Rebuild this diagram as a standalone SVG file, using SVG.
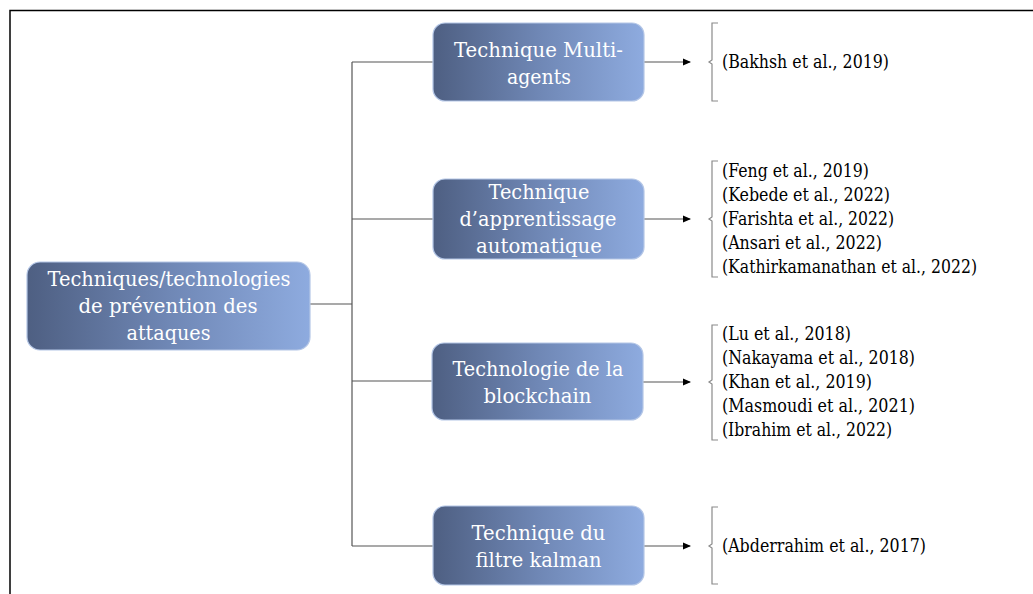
<svg xmlns="http://www.w3.org/2000/svg" width="1033" height="594" viewBox="0 0 1033 594">
  <defs>
    <linearGradient id="boxFill" x1="0" y1="0" x2="1" y2="0">
      <stop offset="0" stop-color="#4e5f82"/>
      <stop offset="0.5" stop-color="#6f87b5"/>
      <stop offset="1" stop-color="#8eabdf"/>
    </linearGradient>
    <marker id="arrow" markerWidth="8" markerHeight="8" refX="7" refY="4" orient="auto" markerUnits="userSpaceOnUse">
      <path d="M0,0.5 L8,4 L0,7.5 Z" fill="#000"/>
    </marker>
    <style>
      .box { fill: url(#boxFill); stroke: #b4c6e6; stroke-width: 1.2; }
      .lbl { font-family: "DejaVu Serif", serif; font-size: 20px; fill: #ffffff; }
      .ref { font-family: "DejaVu Serif", serif; font-size: 18px; fill: #000000; }
      .wire { fill: none; stroke: #555555; stroke-width: 1.2; }
      .brace { fill: none; stroke: #8a8a8a; stroke-width: 1.2; }
      .frame { fill: none; stroke: #000000; stroke-width: 1.5; }
    </style>
  </defs>

  <rect width="1033" height="594" fill="#ffffff"/>
  <path class="frame" d="M10,594 L10,10.5 L1033,10.5"/>

  <g id="connectors">
    <path class="wire" d="M310,304 L352,304"/>
    <path class="wire" d="M352,62 L352,546"/>
    <path class="wire" d="M352,62 L433,62"/>
    <path class="wire" d="M352,219 L433,219"/>
    <path class="wire" d="M352,381 L432,381"/>
    <path class="wire" d="M352,546 L433,546"/>
    <path class="wire" d="M644,62 L690,62" marker-end="url(#arrow)"/>
    <path class="wire" d="M644,219 L690,219" marker-end="url(#arrow)"/>
    <path class="wire" d="M643,382 L690,382" marker-end="url(#arrow)"/>
    <path class="wire" d="M644,546 L690,546" marker-end="url(#arrow)"/>
  </g>

  <g id="root">
    <rect class="box" x="27" y="262" width="283" height="88" rx="13"/>
    <text class="lbl" x="47.5" y="286" textLength="243" lengthAdjust="spacingAndGlyphs">Techniques/technologies</text>
    <text class="lbl" x="78.5" y="313" textLength="179" lengthAdjust="spacingAndGlyphs">de prévention des</text>
    <text class="lbl" x="126.5" y="340" textLength="84" lengthAdjust="spacingAndGlyphs">attaques</text>
  </g>

  <g id="multi-agents">
    <rect class="box" x="433" y="23" width="211" height="78" rx="12"/>
    <text class="lbl" x="454" y="56.5" textLength="169" lengthAdjust="spacingAndGlyphs">Technique Multi-</text>
    <text class="lbl" x="507" y="83.5" textLength="64" lengthAdjust="spacingAndGlyphs">agents</text>
    <path class="brace" d="M718,23 L712,23 L712,60 L709,62 L712,64 L712,101 L718,101"/>
    <text class="ref" x="722" y="68" textLength="167" lengthAdjust="spacingAndGlyphs">(Bakhsh et al., 2019)</text>
  </g>

  <g id="apprentissage">
    <rect class="box" x="433" y="179" width="211" height="80" rx="12"/>
    <text class="lbl" x="488.5" y="198.5" textLength="101" lengthAdjust="spacingAndGlyphs">Technique</text>
    <text class="lbl" x="459.5" y="225.5" textLength="157" lengthAdjust="spacingAndGlyphs">d’apprentissage</text>
    <text class="lbl" x="476" y="252.5" textLength="126" lengthAdjust="spacingAndGlyphs">automatique</text>
    <path class="brace" d="M718,161 L712,161 L712,217 L709,219 L712,221 L712,277 L718,277"/>
    <text class="ref" x="722" y="177" textLength="147" lengthAdjust="spacingAndGlyphs">(Feng et al., 2019)</text>
    <text class="ref" x="722" y="201" textLength="168" lengthAdjust="spacingAndGlyphs">(Kebede et al., 2022)</text>
    <text class="ref" x="722" y="225" textLength="172" lengthAdjust="spacingAndGlyphs">(Farishta et al., 2022)</text>
    <text class="ref" x="722" y="249" textLength="160" lengthAdjust="spacingAndGlyphs">(Ansari et al., 2022)</text>
    <text class="ref" x="722" y="273" textLength="255" lengthAdjust="spacingAndGlyphs">(Kathirkamanathan et al., 2022)</text>
  </g>

  <g id="blockchain">
    <rect class="box" x="432" y="343" width="211" height="77" rx="12"/>
    <text class="lbl" x="452.5" y="376" textLength="171" lengthAdjust="spacingAndGlyphs">Technologie de la</text>
    <text class="lbl" x="483.5" y="403" textLength="108" lengthAdjust="spacingAndGlyphs">blockchain</text>
    <path class="brace" d="M718,325 L712,325 L712,380 L709,382 L712,384 L712,440 L718,440"/>
    <text class="ref" x="722" y="340" textLength="129" lengthAdjust="spacingAndGlyphs">(Lu et al., 2018)</text>
    <text class="ref" x="722" y="364" textLength="193" lengthAdjust="spacingAndGlyphs">(Nakayama et al., 2018)</text>
    <text class="ref" x="722" y="388" textLength="150" lengthAdjust="spacingAndGlyphs">(Khan et al., 2019)</text>
    <text class="ref" x="722" y="412" textLength="193" lengthAdjust="spacingAndGlyphs">(Masmoudi et al., 2021)</text>
    <text class="ref" x="722" y="436" textLength="170" lengthAdjust="spacingAndGlyphs">(Ibrahim et al., 2022)</text>
  </g>

  <g id="kalman">
    <rect class="box" x="433" y="506" width="211" height="79" rx="12"/>
    <text class="lbl" x="471.5" y="540" textLength="134" lengthAdjust="spacingAndGlyphs">Technique du</text>
    <text class="lbl" x="475.5" y="567" textLength="126" lengthAdjust="spacingAndGlyphs">filtre kalman</text>
    <path class="brace" d="M718,507 L712,507 L712,544 L709,546 L712,548 L712,584 L718,584"/>
    <text class="ref" x="722" y="552" textLength="204" lengthAdjust="spacingAndGlyphs">(Abderrahim et al., 2017)</text>
  </g>
</svg>
